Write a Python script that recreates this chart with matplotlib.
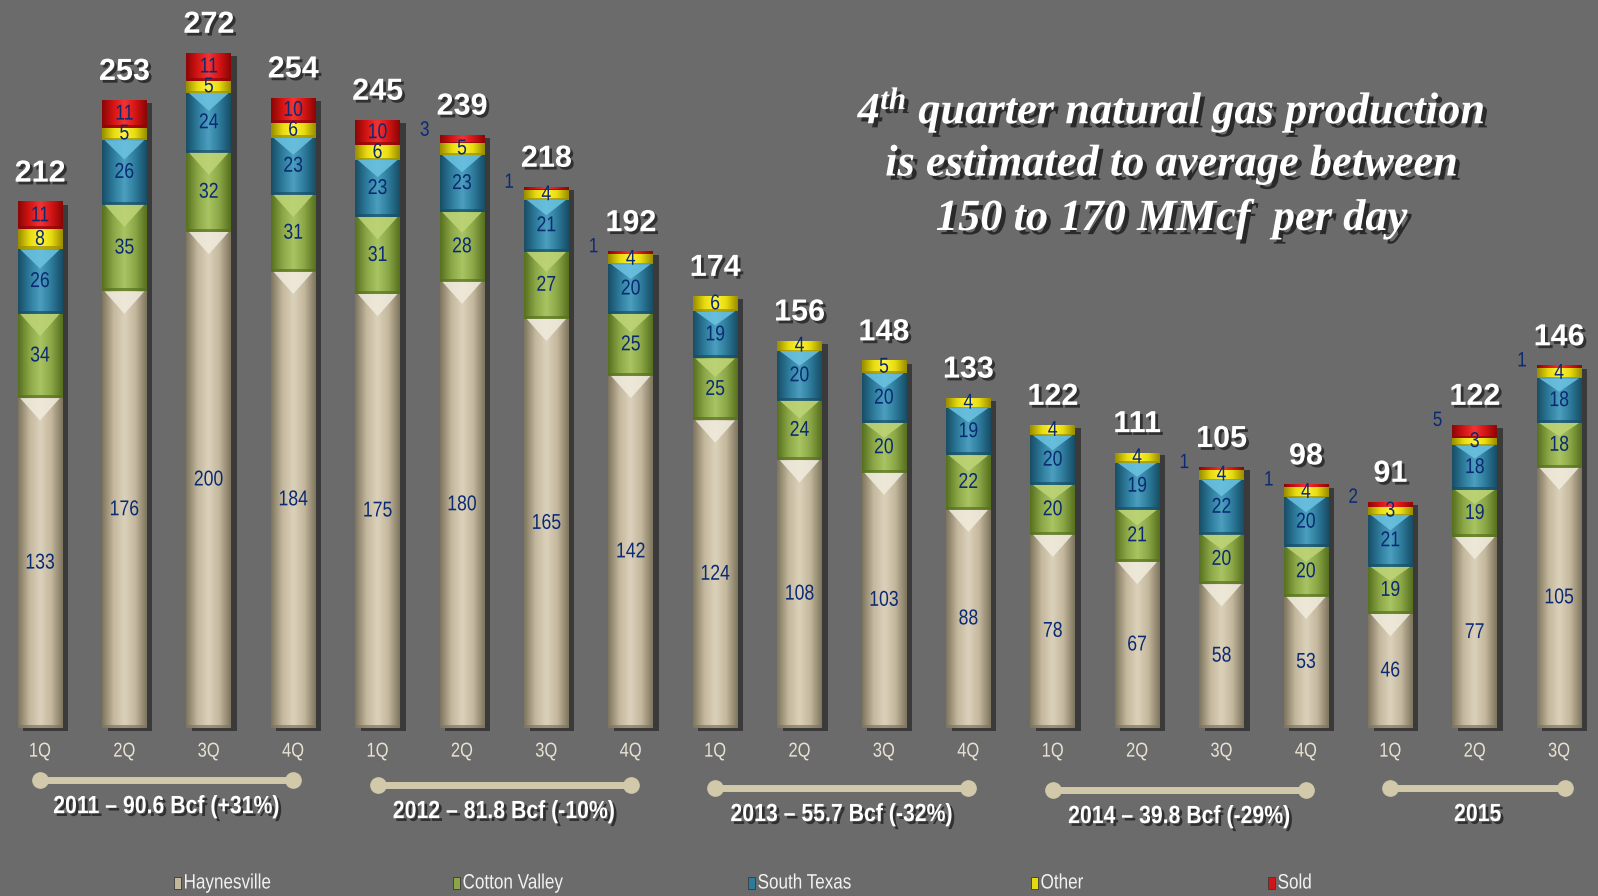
import matplotlib
matplotlib.use("Agg")
import matplotlib.pyplot as plt
import matplotlib.patheffects as pe
import numpy as np
from matplotlib.colors import LinearSegmentedColormap
from matplotlib.patches import Polygon, Rectangle
from matplotlib.transforms import Affine2D

# quarterly gas production (MMcf/d) by area
quarters = ["1Q", "2Q", "3Q", "4Q"] * 4 + ["1Q", "2Q", "3Q"]
haynesville = [133, 176, 200, 184, 175, 180, 165, 142, 124, 108, 103, 88, 78, 67, 58, 53, 46, 77, 105]
cotton_valley = [34, 35, 32, 31, 31, 28, 27, 25, 25, 24, 20, 22, 20, 21, 20, 20, 19, 19, 18]
south_texas = [26, 26, 24, 23, 23, 23, 21, 20, 19, 20, 20, 19, 20, 19, 22, 20, 21, 18, 18]
other = [8, 5, 5, 6, 6, 5, 4, 4, 6, 4, 5, 4, 4, 4, 4, 4, 3, 3, 4]
sold = [11, 11, 11, 10, 10, 3, 1, 1, 0, 0, 0, 0, 0, 0, 1, 1, 2, 5, 1]
totals = [212, 253, 272, 254, 245, 239, 218, 192, 174, 156, 148, 133, 122, 111, 105, 98, 91, 122, 146]

years = ["2011 \u2013 90.6 Bcf (+31%)", "2012 \u2013 81.8 Bcf (-10%)", "2013 \u2013 55.7 Bcf (-32%)",
         "2014 \u2013 39.8 Bcf (-29%)", "2015"]
year_spans = [(0, 3), (4, 7), (8, 11), (12, 15), (16, 18)]

series = ["Haynesville", "Cotton Valley", "South Texas", "Other", "Sold"]
values = [haynesville, cotton_valley, south_texas, other, sold]

# base, light, dark, highlight
palette = {
    "Haynesville": ("#c3b79c", "#dcd2bb", "#7f7660", "#f1ecde"),
    "Cotton Valley": ("#8ba646", "#a9c462", "#57711f", "#bed578"),
    "South Texas": ("#2d7b9b", "#4c9fbf", "#184e66", "#6cc4e2"),
    "Other": ("#e6da0e", "#fff43c", "#9a8d00", None),
    "Sold": ("#d41414", "#f23434", "#8c0606", None),
}

BG = "#6b6b6b"
NAVY = "#0b2a74"


class Condensed(pe.AbstractPathEffect):
    """Squeeze text horizontally (no narrow font installed), then run the inner effects."""

    def __init__(self, sx=0.82, anchor="center", inner=None):
        super().__init__()
        self.sx = sx
        self.anchor = anchor
        self.inner = inner or [pe.Normal()]

    def draw_path(self, renderer, gc, tpath, affine, rgbFace=None):
        xs = affine.transform(tpath.vertices)[:, 0]
        cx = xs.min() if self.anchor == "left" else (xs.min() + xs.max()) / 2
        squeezed = affine + Affine2D().translate(-cx, 0).scale(self.sx, 1).translate(cx, 0)
        for effect in self.inner:
            effect.draw_path(renderer, gc, tpath, squeezed, rgbFace)


plt.rcParams["mathtext.fontset"] = "custom"
plt.rcParams["mathtext.rm"] = "Liberation Serif:italic:bold"
plt.rcParams["mathtext.it"] = "Liberation Serif:italic:bold"
plt.rcParams["font.family"] = ["Liberation Sans", "DejaVu Sans"]

fig = plt.figure(figsize=(15.98, 8.96), dpi=100, facecolor=BG)
ax = fig.add_axes([0, 0, 1, 1])
ax.set_facecolor(BG)
ax.set_xlim(-0.474, 18.46)
ax.set_ylim(-67.7, 293.5)
ax.axis("off")

x = np.arange(len(totals))
width = 0.53
shadow = [pe.SimplePatchShadow(offset=(4, -2), shadow_rgbFace="black", alpha=0.45), pe.Normal()]
txt_shadow = [pe.SimplePatchShadow(offset=(2, -2), shadow_rgbFace="black", alpha=0.55), pe.Normal()]
narrow = [Condensed()]

bottom = np.zeros(len(totals))
for name, vals in zip(series, values):
    base, light, dark, hi = palette[name]
    vals = np.array(vals, dtype=float)
    bars = ax.bar(x, vals, width, bottom=bottom, color=base, zorder=2, path_effects=shadow)
    cmap = LinearSegmentedColormap.from_list(name, [dark, base, light, base, dark])
    grad = np.linspace(0, 1, 64).reshape(1, -1)
    for b in bars:
        if b.get_height() <= 0:
            continue
        x0, y0, w, h = b.get_x(), b.get_y(), b.get_width(), b.get_height()
        ax.imshow(grad, cmap=cmap, aspect="auto", extent=(x0, x0 + w, y0, y0 + h), zorder=3,
                  interpolation="bicubic")
        # darker rim at the base of each block
        ax.add_patch(Rectangle((x0, y0), w, min(1.2, h * 0.15), color=dark, alpha=0.7, lw=0, zorder=4))
        if hi is not None:
            vh = min(9.0, h * 0.3)
            ax.add_patch(Polygon([(x0 + 0.03, y0 + h), (x0 + w - 0.03, y0 + h), (x0 + w / 2, y0 + h - vh)],
                                 closed=True, color=hi, alpha=0.85, lw=0, zorder=4))
    # value labels
    for xi, v, b0 in zip(x, vals, bottom):
        if v <= 0:
            continue
        if name == "Sold" and v < 10:
            ax.text(xi - 0.44, b0 + v + 2, f"{int(v)}", ha="center", va="center", color=NAVY,
                    fontsize=15, zorder=6, path_effects=narrow)
        else:
            ax.text(xi, b0 + v / 2, f"{int(v)}", ha="center", va="center", color=NAVY,
                    fontsize=15.5, zorder=6, path_effects=narrow)
    bottom += vals

# totals above each stack
for xi, t, top in zip(x, totals, bottom):
    ax.text(xi, top + 11.5, f"{t}", ha="center", va="center", color="white", fontsize=22,
            fontweight="bold", zorder=6, path_effects=txt_shadow)

# quarter labels
for xi, q in zip(x, quarters):
    ax.text(xi, -9.3, q, ha="center", va="center", color="#e8e2d2", fontsize=14.5, path_effects=narrow)

# year brackets
bracket_y = [-21.0, -23.0, -24.2, -25.0, -24.2]
for (a, b), label, by in zip(year_spans, years, bracket_y):
    xe = b + (0.07 if a == 16 else 0)
    ax.plot([a, xe], [by, by], color="#d2c8aa", lw=5, solid_capstyle="round", zorder=3)
    ax.plot([a, xe], [by, by], "o", color="#d2c8aa", ms=11, zorder=3)
    ax.text((a + xe) / 2, by - 10.5, label, ha="center", va="center", color="white", fontsize=18,
            fontweight="bold", path_effects=[Condensed(sx=0.85, inner=txt_shadow)])

# headline
lines = ["$4^{th}$ quarter natural gas production", "is estimated to average between",
         "150 to 170 MMcf  per day"]
for i, line in enumerate(lines):
    fig.text(1172 / 1598, 1 - (110 + 54.5 * i) / 896, line, ha="center", va="center", color="white",
             fontsize=32, fontstyle="italic", fontweight="bold", family="Liberation Serif",
             path_effects=[pe.SimplePatchShadow(offset=(3, -3), shadow_rgbFace="black", alpha=0.6),
                           pe.Normal()])

# legend along the bottom
legend_x = [178, 457, 752, 1035, 1272]
for name, lx in zip(series, legend_x):
    fig.patches.append(Rectangle((lx / 1598 - 0.0028, 1 - 889 / 896), 0.0045, 12 / 896,
                                 transform=fig.transFigure, color=palette[name][0],
                                 ec="#3a3a3a", lw=0.6))
    fig.text(lx / 1598 + 0.0035, 1 - 883 / 896, name, ha="left", va="center", color="#f2f2f2",
             fontsize=15, path_effects=[Condensed(anchor="left")])

fig.savefig("out.png", dpi=100, facecolor=BG)
